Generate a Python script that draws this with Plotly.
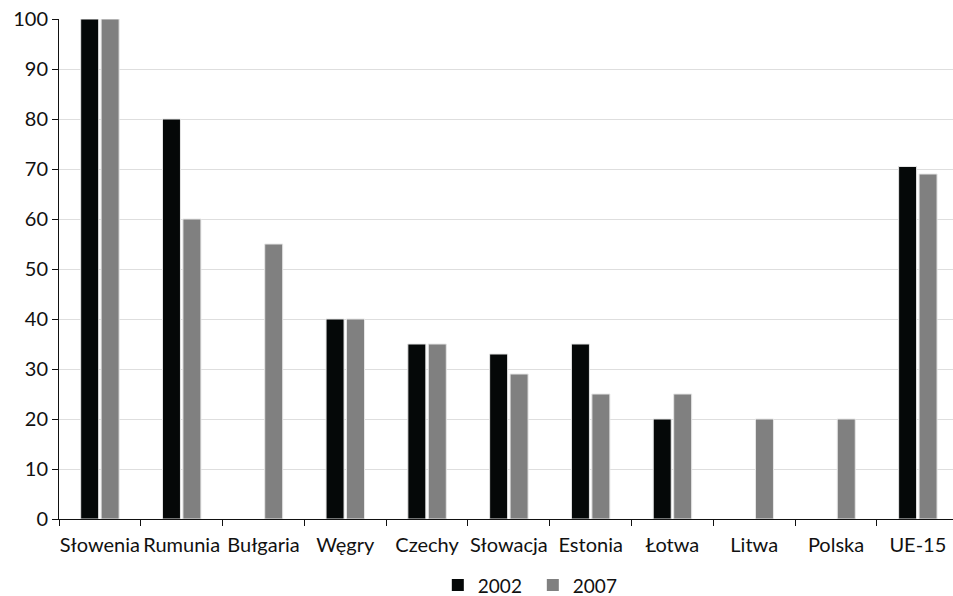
import plotly.graph_objects as go

categories = ["Słowenia", "Rumunia", "Bułgaria", "Węgry", "Czechy", "Słowacja",
              "Estonia", "Łotwa", "Litwa", "Polska", "UE-15"]
values_2002 = [100, 80, None, 40, 35, 33, 35, 20, None, None, 70.5]
values_2007 = [100, 60, 55, 40, 35, 29, 25, 25, 20, 20, 69]
y_ticks = [0, 10, 20, 30, 40, 50, 60, 70, 80, 90, 100]

FONT = "Lato, 'Open Sans', sans-serif"
DARK = "#050808"
GREY = "#808080"

fig = go.Figure()
fig.add_trace(go.Bar(name="2002", x=categories, y=values_2002, showlegend=False,
                     marker=dict(color=DARK, line=dict(color="#e6e6e6", width=1))))
fig.add_trace(go.Bar(name="2007", x=categories, y=values_2007, showlegend=False,
                     marker=dict(color=GREY, line=dict(color="#e6e6e6", width=1))))

# legend entries drawn as small square markers
for name, col in [("2002", DARK), ("2007", GREY)]:
    fig.add_trace(go.Scatter(name=name, x=[None], y=[None], mode="markers",
                             marker=dict(symbol="square", size=12, color=col)))

fig.update_layout(
    width=953, height=596,
    margin=dict(l=59, r=0, t=19, b=77, autoexpand=False),
    paper_bgcolor="white", plot_bgcolor="white",
    barmode="group", bargap=0.5, bargroupgap=0.12,
    font=dict(family=FONT, size=20, color="#111111"),
    showlegend=True,
    legend=dict(orientation="h", x=0.53, xanchor="center", yref="container",
                y=0.018, yanchor="middle", font=dict(size=19),
                itemwidth=30, entrywidth=50, entrywidthmode="pixels",
                tracegroupgap=0, traceorder="normal"),
    xaxis=dict(range=[-0.5, 10.43], showline=True, linecolor="#111111", linewidth=1,
               ticks="outside", tickson="boundaries", ticklen=6, tickcolor="#111111",
               showgrid=False, tickfont=dict(size=20), tickangle=0,
               ticklabelstandoff=8),
    yaxis=dict(range=[0, 100], tickvals=y_ticks, showline=True, linecolor="#111111",
               linewidth=1, ticks="outside", ticklen=6, tickcolor="#111111",
               showgrid=True, gridcolor="#dedede", gridwidth=1, zeroline=False,
               tickfont=dict(size=20)),
)

fig.write_html("out.html")
